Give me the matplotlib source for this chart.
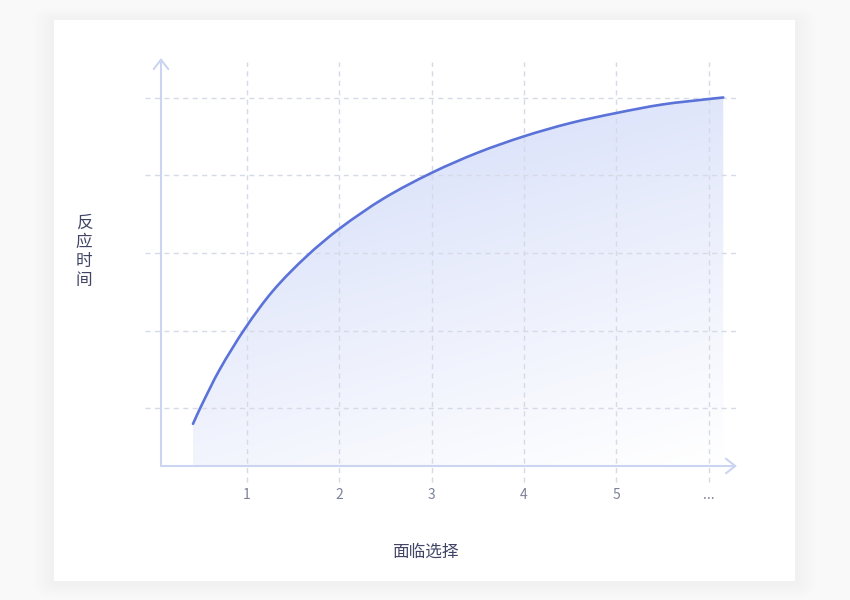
import numpy as np
import matplotlib
matplotlib.use("Agg")
import matplotlib.pyplot as plt
from matplotlib.patches import FancyBboxPatch, PathPatch
from matplotlib.path import Path

plt.rcParams['font.family'] = ['Noto Sans CJK SC', 'DejaVu Sans']
plt.rcParams['lines.scale_dashes'] = False

x_vals = [0.415, 0.5, 0.7, 0.98, 1.28, 1.64, 2.0, 2.48, 3.0, 3.5, 4.0, 4.5, 5.0, 5.5, 6.0, 6.16]
y_vals = [0.80, 1.02, 1.49, 2.03, 2.51, 2.95, 3.31, 3.70, 4.03, 4.29, 4.50, 4.67, 4.80, 4.91, 4.98, 5.0]
x_ticks = [1, 2, 3, 4, 5, 6]
x_tick_labels = ["1", "2", "3", "4", "5", "..."]
y_grid = [1, 2, 3, 4, 5]
x_label = "面临选择"
y_label = "反应时间"

line_col = "#5b73d9"
axis_col = "#cbd5f1"
grid_col = "#d6dae6"
tick_col = "#7d8199"
label_col = "#404566"

# pixel -> data mapping (figure is 850x600 px)
px0, pdx = 154.7, 92.3
py0, pdy = 486.0, 77.7

fig = plt.figure(figsize=(8.5, 6), dpi=100, facecolor="#f9f9fa")
ax = fig.add_axes([0, 0, 1, 1])
ax.set_xlim(-px0 / pdx, (850 - px0) / pdx)
ax.set_ylim((py0 - 600) / pdy, py0 / pdy)
ax.axis("off")
ax.patch.set_visible(False)

# Card with a very soft shadow :
cx, cy, cw, ch = 54 / 850, 19 / 600, 741 / 850, 561 / 600
for i in range(8):
    pad = (i + 1) * 0.003
    ax.add_patch(FancyBboxPatch((cx, cy - 0.003), cw, ch, boxstyle=f"round,pad={pad}",
                                transform=ax.transAxes, fc="#9094a5", ec="none", alpha=0.006, zorder=0))
ax.add_patch(FancyBboxPatch((cx, cy), cw, ch, boxstyle="square,pad=0",
                            transform=ax.transAxes, fc="white", ec="none", zorder=0.5))

# Smooth path through the read points (cubic Hermite -> Bezier) :
xs, ys = np.array(x_vals), np.array(y_vals)
n = len(xs)
m = np.empty(n)
m[1:-1] = (ys[2:] - ys[:-2]) / (xs[2:] - xs[:-2])
m[0] = (ys[1] - ys[0]) / (xs[1] - xs[0])
m[-1] = (ys[-1] - ys[-2]) / (xs[-1] - xs[-2])
verts = [(xs[0], ys[0])]
codes = [Path.MOVETO]
for i in range(n - 1):
    h = xs[i + 1] - xs[i]
    verts += [(xs[i] + h / 3, ys[i] + m[i] * h / 3),
              (xs[i + 1] - h / 3, ys[i + 1] - m[i + 1] * h / 3),
              (xs[i + 1], ys[i + 1])]
    codes += [Path.CURVE4] * 3
curve_path = Path(verts, codes)

# Gradient fill below the curve :
x_axis_y = (py0 - 466) / pdy
y_axis_x = (161 - px0) / pdx
xmin, xmax = x_vals[0], x_vals[-1]
ymin, ymax = x_axis_y, max(y_vals)
gu, gv = np.meshgrid(np.linspace(0, 1, 300), np.linspace(0, 1, 300))
s = np.clip(0.3 * (1 - gu) + 0.7 * gv, 0, 1) ** 1.1
base = np.array([0.82, 0.855, 0.975])
img = np.ones((300, 300, 3)) * (1 - s[..., None]) + base * s[..., None]
im = ax.imshow(img, extent=[xmin, xmax, ymin, ymax], origin="lower", aspect="auto", zorder=1)
fill_path = Path(verts + [(xmax, ymin), (xmin, ymin), verts[0]],
                 codes + [Path.LINETO, Path.LINETO, Path.CLOSEPOLY])
fill_patch = PathPatch(fill_path, fc="none", ec="none", transform=ax.transData)
ax.add_patch(fill_patch)
im.set_clip_path(fill_patch)

# Dashed grid :
for gy in y_grid:
    ax.plot([(145 - px0) / pdx, (737 - px0) / pdx], [gy, gy], color=grid_col, lw=1,
            dashes=(3.6, 3.2), zorder=2)
for gx in x_ticks:
    ax.plot([gx, gx], [(py0 - 482) / pdy, (py0 - 62) / pdy], color=grid_col, lw=1,
            dashes=(3.6, 3.2), zorder=2)

# Axes with arrows :
arrow = dict(arrowstyle="->,head_length=0.45,head_width=0.35", color=axis_col, lw=1.5,
             mutation_scale=15, shrinkA=0, shrinkB=0)
ax.annotate("", xy=(y_axis_x, (py0 - 58) / pdy), xytext=(y_axis_x, x_axis_y), arrowprops=arrow, zorder=3)
ax.annotate("", xy=((737 - px0) / pdx, x_axis_y), xytext=(y_axis_x, x_axis_y), arrowprops=arrow, zorder=3)

# Curve :
ax.add_patch(PathPatch(curve_path, fc="none", ec=line_col, lw=1.9, capstyle="round", zorder=4))

# Tick labels and axis titles :
for gx, lab in zip(x_ticks, x_tick_labels):
    ax.text(gx, (py0 - 495) / pdy, lab, ha="center", va="center", fontsize=10, color=tick_col)
ax.text((425 - px0) / pdx, (py0 - 552) / pdy, x_label, ha="center", va="center",
        fontsize=12, color=label_col, fontweight="medium")
ax.text((84 - px0) / pdx, (py0 - 252) / pdy, "\n".join(y_label), ha="center", va="center",
        fontsize=12, color=label_col, linespacing=1.15, fontweight="medium")

fig.savefig("out.png", dpi=100, facecolor=fig.get_facecolor())
